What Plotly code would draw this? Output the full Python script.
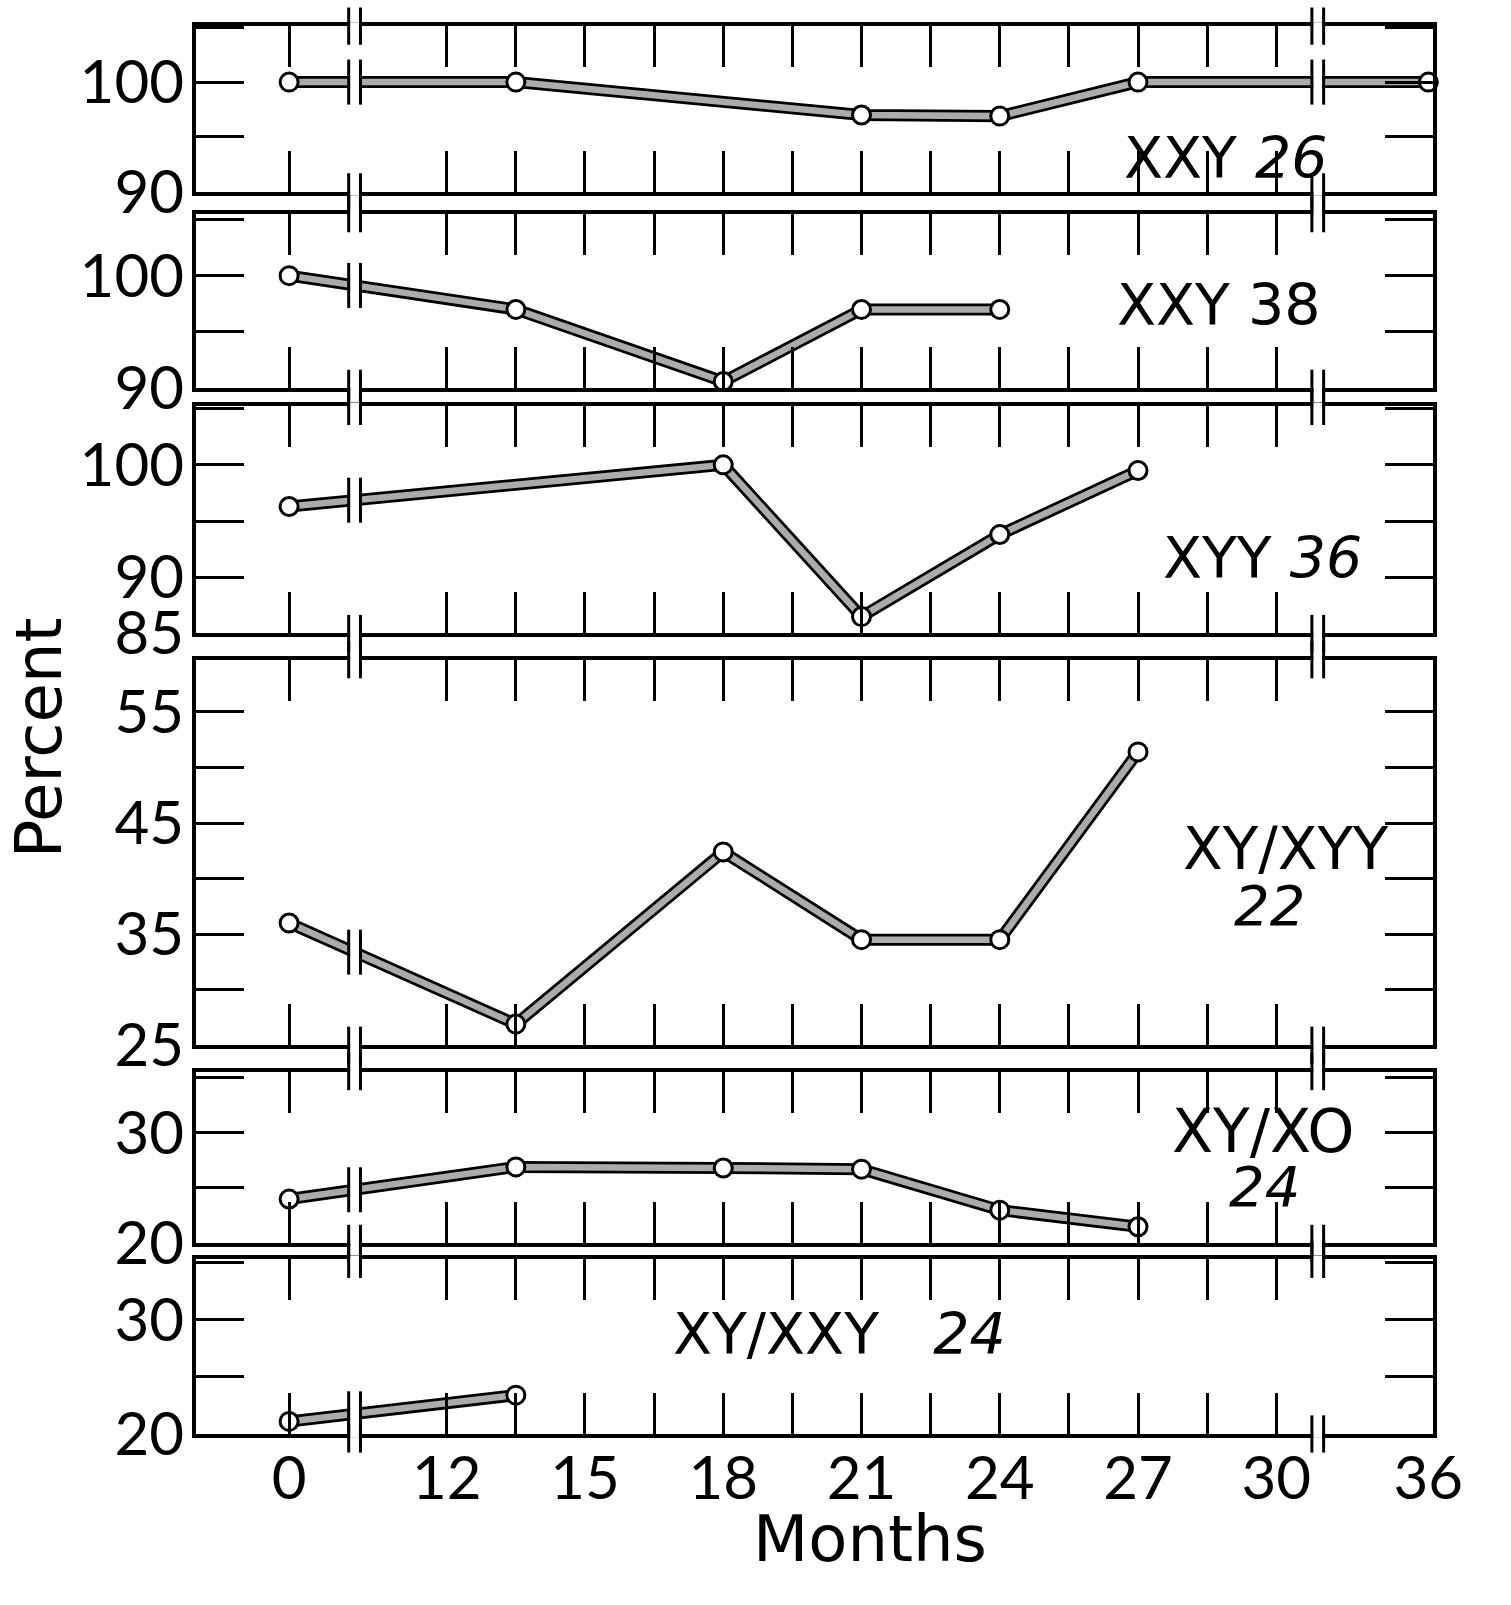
import numpy as np
import plotly.graph_objects as go

# ---------------------------------------------------------------- data
month_ticks = [0, 12, 13.5, 15, 16.5, 18, 19.5, 21, 22.5, 24, 25.5, 27, 28.5, 30]
month_labels = [0, 12, 15, 18, 21, 24, 27, 30, 36]

xxy26_months = [0, 13.5, 21, 24, 27, 36]
xxy26_pct = [100, 100, 97, 96.9, 100, 100]

xxy38_months = [0, 13.5, 18, 21, 24]
xxy38_pct = [100, 97, 90.6, 97, 97]

xyy36_months = [0, 18, 21, 24, 27]
xyy36_pct = [96.3, 100, 86.5, 93.8, 99.5]

xy_xyy22_months = [0, 13.5, 18, 21, 24, 27]
xy_xyy22_pct = [36, 26.9, 42.4, 34.5, 34.5, 51.4]

xy_xo24_months = [0, 13.5, 18, 21, 24, 27]
xy_xo24_pct = [24, 26.9, 26.8, 26.7, 23, 21.5]

xy_xxy24_months = [0, 13.5]
xy_xxy24_pct = [21.1, 23.4]

# ---------------------------------------------------------------- layout constants
W, H = 1511, 1605
X_LEFT_PX, X_RIGHT_PX = 200, 1462
X_RANGE = [6.56, 33.4]
# broken month axis: 0 and 36 sit beyond the breaks
BREAK_IN = [0, 12, 30, 36]
BREAK_OUT = [8.58, 12, 30, 33.3]
BREAKS_X = [10.0, 30.9]

NUM_FONT = "Lato, 'Open Sans', 'DejaVu Sans', sans-serif"
TXT_FONT = "'DejaVu Sans', Verdana, sans-serif"
INK = "black"
FILL = "#ababab"


def xpos(months):
    return np.interp(months, BREAK_IN, BREAK_OUT)


def gx(px):
    return px / W


def gy(py):
    return 1 - py / H


panels = [
    dict(months=xxy26_months, pct=xxy26_pct, yr=[90, 105.1], px=(26.7, 196),
         labels={100: "100", 90: "90"}),
    dict(months=xxy38_months, pct=xxy38_pct, yr=[90, 105.5], px=(218.3, 396.7),
         labels={100: "100", 90: "90"}),
    dict(months=xyy36_months, pct=xyy36_pct, yr=[85, 105.2], px=(415.2, 647.2),
         labels={100: "100", 90: "90", 85: "85"}),
    dict(months=xy_xyy22_months, pct=xy_xyy22_pct, yr=[25, 59.7], px=(674, 1067.8),
         labels={55: "55", 45: "45", 35: "35", 25: "25"}),
    dict(months=xy_xo24_months, pct=xy_xo24_pct, yr=[20, 35.5], px=(1094.8, 1270.3),
         labels={30: "30", 20: "20"}),
    dict(months=xy_xxy24_months, pct=xy_xxy24_pct, yr=[20, 35.3], px=(1286.6, 1465),
         labels={30: "30", 20: "20"}),
]

panel_titles = [
    ("XXY <i>26</i>", 1251, 161, 57),
    ("XXY 38", 1244, 312, 57),
    ("XYY <i>36</i>", 1288, 570, 57),
    ("XY/XYY", 1312, 867, 58),
    ("<i>22</i>", 1295, 925, 56),
    ("XY/XO", 1289, 1155, 60),
    ("<i>24</i>", 1290, 1212, 56),
    ("XY/XXY   <i>24</i>", 856, 1363, 57),
]

fig = go.Figure()
layout = {}
shapes = []
px_per_unit_x = (X_RIGHT_PX - X_LEFT_PX) / (X_RANGE[1] - X_RANGE[0])
gap = 6 / px_per_unit_x

for i, p in enumerate(panels, start=1):
    suffix = "" if i == 1 else str(i)
    xa, ya = "x" + suffix, "y" + suffix
    xs = xpos(p["months"])
    top_px, bot_px = p["px"]
    y0, y1 = p["yr"]

    # double-stroke line: black outline, stippled grey core, open circles
    fig.add_trace(go.Scatter(x=xs, y=p["pct"], xaxis=xa, yaxis=ya, mode="lines",
                             line=dict(color=INK, width=12), hoverinfo="skip",
                             showlegend=False, cliponaxis=False))
    fig.add_trace(go.Scatter(x=xs, y=p["pct"], xaxis=xa, yaxis=ya, mode="lines+markers",
                             line=dict(color=FILL, width=6.5),
                             marker=dict(symbol="circle", size=18, color="white",
                                         line=dict(color=INK, width=3)),
                             showlegend=False, cliponaxis=False))

    yticks = list(np.arange(y0, y1 + 1e-9, 5))
    layout["xaxis" + suffix] = dict(
        domain=[gx(X_LEFT_PX), gx(X_RIGHT_PX)], range=X_RANGE, anchor=ya,
        tickvals=list(xpos(month_ticks)), ticks="inside", ticklen=41, tickwidth=3,
        tickcolor=INK, showticklabels=False, showline=True, linewidth=4,
        linecolor=INK, mirror="ticks", showgrid=False, zeroline=False, fixedrange=True)
    layout["yaxis" + suffix] = dict(
        domain=[gy(bot_px), gy(top_px)], range=p["yr"], anchor=xa,
        tickvals=yticks, ticktext=[p["labels"].get(int(round(v)), "") for v in yticks],
        ticks="inside", ticklen=48, tickwidth=3, tickcolor=INK, showline=True,
        linewidth=4, linecolor=INK, mirror="ticks", showgrid=False, zeroline=False,
        tickfont=dict(family=NUM_FONT, size=60, color=INK, weight=400),
        ticklabelstandoff=-4, fixedrange=True)

    # axis-break marks on the panel frame
    for bx in BREAKS_X:
        for edge in (top_px, bot_px):
            shapes.append(dict(type="rect", xref="x", yref="paper", layer="above",
                               x0=bx - gap + 0.03, x1=bx + gap - 0.03,
                               y0=gy(edge + 4), y1=gy(edge - 4),
                               fillcolor="white", line=dict(width=0)))
            for sx in (bx - gap, bx + gap):
                shapes.append(dict(type="line", xref="x", yref="paper", layer="above",
                                   x0=sx, x1=sx, y0=gy(edge + 19), y1=gy(edge - 19),
                                   line=dict(color=INK, width=3)))

    # axis-break marks across the data line
    for bx in BREAKS_X:
        if not (xs[0] < bx < xs[-1]):
            continue
        yv = float(np.interp(bx, xs, p["pct"]))
        line_py = top_px + (y1 - yv) / (y1 - y0) * (bot_px - top_px)
        shapes.append(dict(type="rect", xref="x", yref="paper", layer="above",
                           x0=bx - gap + 0.03, x1=bx + gap - 0.03,
                           y0=gy(line_py + 10), y1=gy(line_py - 10),
                           fillcolor="white", line=dict(width=0)))
        for sx in (bx - gap, bx + gap):
            shapes.append(dict(type="line", xref="x", yref="paper", layer="above",
                               x0=sx, x1=sx, y0=gy(line_py + 23), y1=gy(line_py - 23),
                               line=dict(color=INK, width=3)))

# month labels under the bottom panel
fig.add_trace(go.Scatter(x=[], y=[], xaxis="x7", yaxis="y6", showlegend=False))
layout["xaxis7"] = dict(
    overlaying="x6", anchor="y6", side="bottom", domain=[gx(X_LEFT_PX), gx(X_RIGHT_PX)],
    range=X_RANGE, tickvals=list(xpos(month_labels)),
    ticktext=[str(m) for m in month_labels], ticks="", showline=False, showgrid=False,
    zeroline=False, tickfont=dict(family=NUM_FONT, size=60, color=INK, weight=400),
    ticklabelstandoff=4, fixedrange=True)

annotations = []
for text, x_px, y_px, size in panel_titles:
    annotations.append(dict(text=text, x=gx(x_px), y=gy(y_px), xref="paper",
                            yref="paper", showarrow=False, xanchor="center",
                            yanchor="middle",
                            font=dict(family=TXT_FONT, size=size, color=INK)))
annotations.append(dict(text="Percent", x=gx(40), y=gy(754), xref="paper",
                        yref="paper", showarrow=False, textangle=-90,
                        xanchor="center", yanchor="middle",
                        font=dict(family=TXT_FONT, size=64, color=INK)))
annotations.append(dict(text="Months", x=gx(888), y=gy(1572), xref="paper",
                        yref="paper", showarrow=False, xanchor="center",
                        yanchor="middle",
                        font=dict(family=TXT_FONT, size=64, color=INK)))

fig.update_layout(
    width=W, height=H, margin=dict(l=0, r=0, t=0, b=0),
    paper_bgcolor="white", plot_bgcolor="white",
    shapes=shapes, annotations=annotations, showlegend=False, **layout)

fig.write_html("out.html", config=dict(displayModeBar=False))
